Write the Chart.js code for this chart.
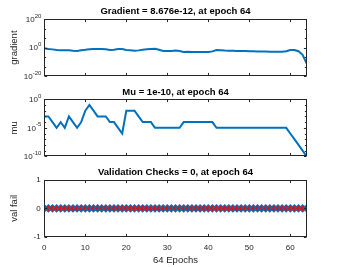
<!DOCTYPE html>
<html><head><meta charset="utf-8">
<script src="https://cdn.jsdelivr.net/npm/chart.js@4.4.0/dist/chart.umd.min.js"></script>
<style>
html,body{margin:0;padding:0;background:#fff;width:339px;height:267px;overflow:hidden}
canvas{position:absolute;left:0}
</style></head><body>
<canvas id="c1" style="top:0px" width="339" height="80"></canvas>
<canvas id="c2" style="top:80px" width="339" height="80"></canvas>
<canvas id="c3" style="top:160px" width="339" height="107"></canvas>
<script>
// ---------- data ----------
const epochs = [0,1,2,3,4,5,6,7,8,9,10,11,12,13,14,15,16,17,18,19,20,21,22,23,24,25,26,27,28,29,30,31,32,
  33,34,35,36,37,38,39,40,41,42,43,44,45,46,47,48,49,50,51,52,53,54,55,56,57,58,59,60,61,62,63,64];
const gradient = [0.32,0.13,0.063,0.025,0.016,0.016,0.0126,0.0063,0.004,0.016,
  0.032,0.079,0.1,0.1,0.1,0.079,0.025,0.04,0.13,0.1,
  0.025,0.016,0.0063,0.0126,0.032,0.079,0.13,0.16,0.032,0.005,
  0.004,0.005,0.01,0.004,0.0008,0.00126,0.001,0.001,0.001,0.0008,
  0.0008,0.0025,0.025,0.016,0.01,0.0079,0.0063,0.005,0.004,0.004,
  0.0032,0.0032,0.0025,0.0025,0.002,0.0016,0.0016,0.00126,0.00126,0.0032,
  0.02,0.025,0.003,1e-5,8.676e-12];
const mu = [1e-3,1e-3,1e-4,1e-5,1e-4,1e-5,1e-3,1e-4,1e-5,1e-4,
  1e-2,1e-1,1e-2,1e-3,1e-3,1e-3,1e-4,1e-4,1e-5,1e-6,
  1e-2,1e-2,1e-2,1e-3,1e-4,1e-4,1e-4,1e-5,1e-5,1e-5,
  1e-5,1e-5,1e-5,1e-5,1e-4,1e-4,1e-4,1e-4,1e-4,1e-4,
  1e-4,1e-4,1e-5,1e-5,1e-5,1e-5,1e-5,1e-5,1e-5,1e-5,
  1e-5,1e-5,1e-5,1e-5,1e-5,1e-5,1e-5,1e-5,1e-5,1e-5,
  1e-6,1e-7,1e-8,1e-9,1e-10];
const valFail = [0,0,0,0,0,0,0,0,0,0,0,0,0,0,0,0,0,0,0,0,0,0,0,0,0,0,0,0,0,0,0,0,0,
  0,0,0,0,0,0,0,0,0,0,0,0,0,0,0,0,0,0,0,0,0,0,0,0,0,0,0,0,0,0,0,0];

const xTicks = [0,10,20,30,40,50,60];
const gradMajor = [1e-20,1,1e20];
const gradLabels = ['10^-20','10^0','10^20'];
const gradMinor = [4.64e-14,2.15e-7,4.64e6,2.15e13];
const muMajor = [1e-10,1e-5,1];
const muLabels = ['10^-10','10^-5','10^0'];
const muMinor = [1e-9,1e-8,1e-7,1e-6,1e-4,1e-3,1e-2,1e-1];
const valTicks = [-1,0,1];

const titles = ['Gradient = 8.676e-12, at epoch 64','Mu = 1e-10, at epoch 64','Validation Checks = 0, at epoch 64'];
const yTitles = ['gradient','mu','val fail'];
const xTitle = '64 Epochs';

// ---------- style ----------
const FONT = '"Liberation Sans", Arial, Helvetica, sans-serif';
const BLUE = '#0072BD';
const AX = '#262626';
const PLOT_LEFT = 44.3, PLOT_RIGHT_PAD = 32.3;

function drawPow(ctx, label, xRight, yMid){
  const parts = label.split('^');
  ctx.font = '8px ' + FONT;
  const wb = ctx.measureText(parts[0]).width;
  ctx.font = '6px ' + FONT;
  const we = ctx.measureText(parts[1]).width;
  const x0 = xRight - we - wb;
  ctx.textAlign = 'left'; ctx.textBaseline = 'middle'; ctx.fillStyle = AX;
  ctx.font = '8px ' + FONT; ctx.fillText(parts[0], x0, yMid + 0.5);
  ctx.font = '6px ' + FONT; ctx.fillText(parts[1], x0 + wb, yMid - 3);
}

const matBox = {
  id: 'matBox',
  afterDatasetsDraw(chart, args, o){
    const {ctx, chartArea: a} = chart;
    const xs = chart.scales.x, ys = chart.scales.y;
    ctx.save();
    ctx.strokeStyle = AX; ctx.lineWidth = 1;
    const L = Math.round(a.left) + 0.5, R = Math.round(a.right) - 0.5;
    const T = Math.round(a.top) + 0.5, B = Math.round(a.bottom) - 0.5;
    ctx.strokeRect(L, T, R - L, B - T);
    ctx.beginPath();
    const tl = 2.6;
    (o.xTicks || []).forEach(v => {
      const p = Math.round(xs.getPixelForValue(v)) + 0.5;
      ctx.moveTo(p, B); ctx.lineTo(p, B - tl);
      ctx.moveTo(p, T); ctx.lineTo(p, T + tl);
    });
    (o.yMajor || []).forEach(v => {
      const p = Math.round(ys.getPixelForValue(v)) + 0.5;
      ctx.moveTo(L, p); ctx.lineTo(L + tl, p);
      ctx.moveTo(R, p); ctx.lineTo(R - tl, p);
    });
    (o.yMinor || []).forEach(v => {
      const p = Math.round(ys.getPixelForValue(v)) + 0.5;
      ctx.moveTo(L, p); ctx.lineTo(L + 1.6, p);
      ctx.moveTo(R, p); ctx.lineTo(R - 1.6, p);
    });
    ctx.stroke();
    if (o.yLabels) {
      o.yMajor.forEach((v, i) => drawPow(ctx, o.yLabels[i], a.left - 3, ys.getPixelForValue(v)));
    }
    ctx.restore();
  }
};

function makeChart(id, cfg){
  const isLast = !!cfg.showX;
  return new Chart(document.getElementById(id), {
    type: 'line',
    data: { datasets: [{
      data: epochs.map((e, i) => ({x: e, y: cfg.values[i]})),
      borderColor: BLUE, borderWidth: 2, tension: 0,
      pointRadius: cfg.points ? 3.6 : 0,
      pointStyle: 'rectRot',
      pointBackgroundColor: '#FF0000',
      pointBorderColor: BLUE,
      pointBorderWidth: 1.2
    }]},
    options: {
      responsive: false, animation: false, devicePixelRatio: 1,
      layout: { padding: { left: 0, right: PLOT_RIGHT_PAD, top: 0, bottom: cfg.padBottom } },
      plugins: {
        legend: { display: false }, tooltip: { enabled: false },
        title: { display: true, text: cfg.title, fullSize: false, color: '#000',
          font: { family: FONT, size: 9.5, weight: 'bold' },
          padding: { top: cfg.tTop, bottom: cfg.tBottom } },
        matBox: { xTicks: xTicks, yMajor: cfg.yMajor, yMinor: cfg.yMinor, yLabels: cfg.yLabels }
      },
      scales: {
        x: {
          type: 'linear', min: 0, max: 64, display: isLast,
          grid: { display: false, drawTicks: false }, border: { display: false },
          afterBuildTicks: s => { s.ticks = xTicks.map(v => ({value: v})); },
          afterFit: s => { if (isLast) s.height = 30.3; },
          ticks: { color: AX, font: { family: FONT, size: 8 }, padding: 6, maxRotation: 0, autoSkip: false },
          title: { display: isLast, text: xTitle, color: AX, font: { family: FONT, size: 9.5 }, padding: { top: 0, bottom: 1.3 } }
        },
        y: {
          type: cfg.log ? 'logarithmic' : 'linear', min: cfg.min, max: cfg.max,
          grid: { display: false, drawTicks: false }, border: { display: false },
          afterBuildTicks: s => { s.ticks = (cfg.log ? cfg.yMajor : valTicks).map(v => ({value: v})); },
          afterFit: s => { s.width = PLOT_LEFT; },
          ticks: { display: !cfg.log, color: AX, font: { family: FONT, size: 8 }, padding: 3.6 },
          title: { display: true, text: cfg.yTitle, color: AX, font: { family: FONT, size: 9.5 }, padding: { top: 8.5, bottom: 0 } }
        }
      }
    },
    plugins: [matBox]
  });
}

makeChart('c1', { values: gradient, title: titles[0], yTitle: yTitles[0], log: true, min: 1e-20, max: 1e20,
  yMajor: gradMajor, yMinor: gradMinor, yLabels: gradLabels, tTop: 6, tBottom: 1.6, padBottom: 3.7 });
makeChart('c2', { values: mu, title: titles[1], yTitle: yTitles[1], log: true, min: 1e-10, max: 1,
  yMajor: muMajor, yMinor: muMinor, yLabels: muLabels, tTop: 6.3, tBottom: 1.6, padBottom: 3.7 });
makeChart('c3', { values: valFail, title: titles[2], yTitle: yTitles[2], log: false, min: -1, max: 1,
  yMajor: valTicks, yMinor: [], yLabels: null, points: true, showX: true, tTop: 6.8, tBottom: 1.8, padBottom: 0 });
</script>
</body></html>
